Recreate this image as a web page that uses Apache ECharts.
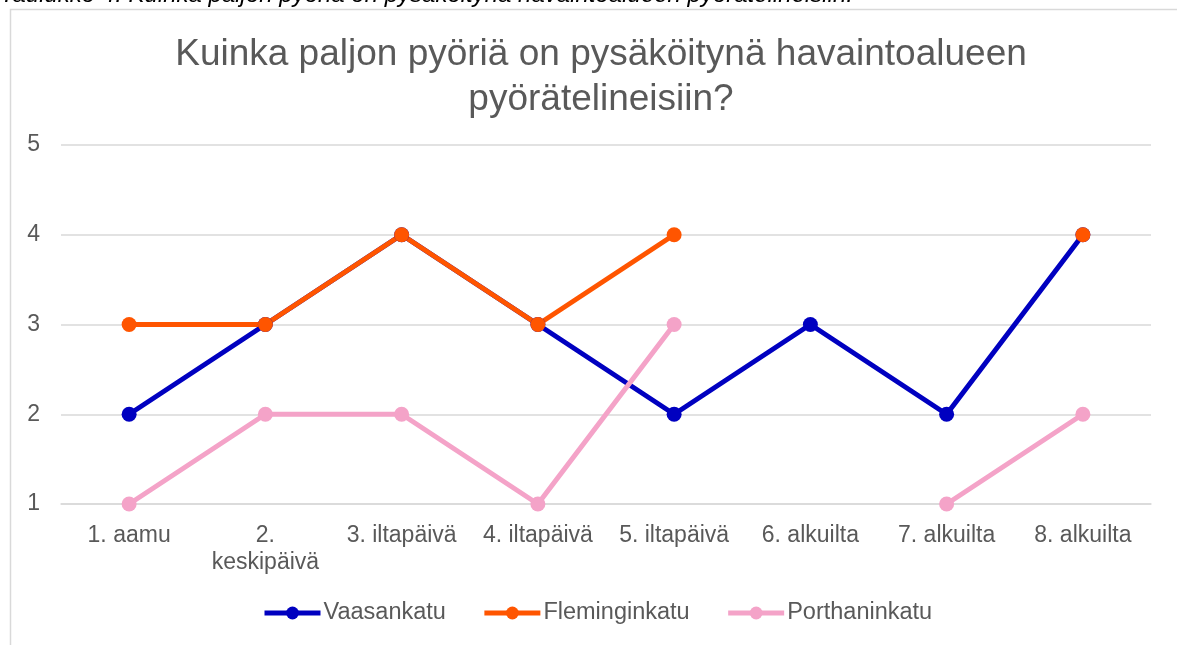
<!DOCTYPE html>
<html>
<head>
<meta charset="utf-8">
<script src="https://cdn.jsdelivr.net/npm/echarts@6/dist/echarts.min.js"></script>
<style>
html,body{margin:0;padding:0;background:#fff;}
#chart{width:1177px;height:645px;}
</style>
</head>
<body>
<div id="chart"></div>
<script>
const categories = ['1. aamu', '2. keskipäivä', '3. iltapäivä', '4. iltapäivä', '5. iltapäivä', '6. alkuilta', '7. alkuilta', '8. alkuilta'];
const vaasankatu = [2, 3, 4, 3, 2, 3, 2, 4];
const fleminginkatu = [3, 3, 4, 3, 4, null, null, 4];
const porthaninkatu = [1, 2, 2, 1, 3, null, 1, 2];
const yTicks = [1, 2, 3, 4, 5];
const titleText = 'Kuinka paljon pyöriä on pysäköitynä havaintoalueen\npyörätelineisiin?';
const captionText = 'Taulukko 4: Kuinka paljon pyöriä on pysäköitynä havaintoalueen pyörätelineisiin.';

const FONT = '"Liberation Sans", Arial, sans-serif';
const TXT = '#595959';

function mkSeries(name, data, color) {
  return {
    name: name, type: 'line', data: data,
    connectNulls: false,
    symbol: 'circle', symbolSize: 15,
    lineStyle: { width: 5, color: color },
    itemStyle: { color: color },
    emphasis: { disabled: true },
    animation: false
  };
}

const chart = echarts.init(document.getElementById('chart'), null, { renderer: 'canvas' });
chart.setOption({
  backgroundColor: '#ffffff',
  animation: false,
  title: {
    text: titleText,
    left: 596, top: 27, textAlign: 'center',
    textStyle: { fontFamily: FONT, fontSize: 37, fontWeight: 'normal', color: TXT, lineHeight: 45 }
  },
  graphic: [
    { type: 'rect', left: 8, top: 7, shape: { x: 0, y: 0, width: 1200, height: 700 },
      style: { fill: 'none', stroke: '#d9d9d9', lineWidth: 1.5 }, silent: true, z: -1 },
    { type: 'text', x: 0, y: -17,
      style: { text: captionText, font: 'italic 24px "Liberation Sans", Arial, sans-serif', fill: '#000' }, silent: true }
  ],
  legend: {
    data: ['Vaasankatu', 'Fleminginkatu', 'Porthaninkatu'],
    left: 262, top: 601,
    itemWidth: 56, itemHeight: 16, itemGap: 36,
    padding: 0,
    lineStyle: { width: 5 },
    textStyle: { fontFamily: FONT, fontSize: 23.5, color: TXT, padding: [0, 0, 0, -2] }
  },
  grid: { left: 61, right: 26, top: 145, bottom: 141, containLabel: false },
  xAxis: {
    type: 'category', data: categories, boundaryGap: true,
    axisLine: { show: true, lineStyle: { color: '#d9d9d9', width: 1.5 } },
    axisTick: { show: false },
    axisLabel: {
      fontFamily: FONT, fontSize: 23, color: TXT, margin: 18, lineHeight: 27, interval: 0,
      formatter: function (v) { return v.length > 12 ? v.replace(' ', '\n') : v; }
    }
  },
  yAxis: {
    type: 'value', min: yTicks[0], max: yTicks[yTicks.length - 1], interval: 1,
    axisLine: { show: false }, axisTick: { show: false },
    splitLine: { lineStyle: { color: '#d9d9d9', width: 1.5 } },
    axisLabel: { fontFamily: FONT, fontSize: 23, color: TXT, margin: 21 }
  },
  series: [
    mkSeries('Vaasankatu', vaasankatu, '#0000c0'),
    mkSeries('Fleminginkatu', fleminginkatu, '#ff5500'),
    mkSeries('Porthaninkatu', porthaninkatu, '#f4a3c8')
  ]
});
</script>
</body>
</html>
